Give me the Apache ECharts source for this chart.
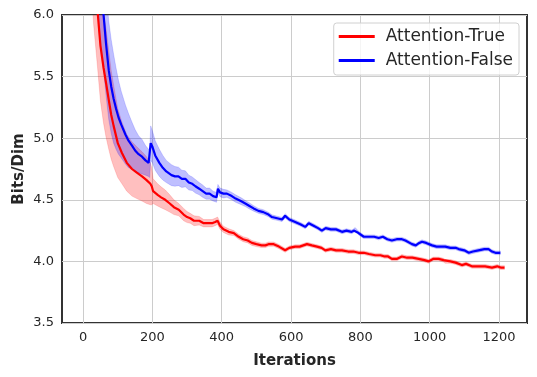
<!DOCTYPE html>
<html>
<head>
<meta charset="utf-8">
<script src="https://cdn.jsdelivr.net/npm/echarts@6/dist/echarts.min.js"></script>
<style>
    html, body {margin: 0; padding: 0; background: #fff;}
    #chart {width: 537px; height: 377px;}
</style>
</head>
<body>
<div id="chart"></div>
<script>
// Attention-True (red)
const redX = [20, 30, 42, 50, 59, 66, 74, 81, 88, 100,
    112, 126, 141, 155, 170, 183, 194, 198, 202, 215,
    225, 237, 250, 262, 276, 290, 300, 309, 320, 335,
    348, 360, 372, 381, 388, 395, 405, 420, 435, 449,
    462, 475, 487, 500, 515, 526, 535, 550, 565, 583,
    595, 612, 625, 646, 660, 675, 688, 699, 715, 730,
    747, 765, 780, 795, 810, 825, 843, 858, 870, 880,
    891, 905, 920, 935, 950, 968, 985, 997, 1010, 1026,
    1040, 1045, 1060, 1075, 1093, 1105, 1122, 1140, 1160, 1180,
    1195, 1205, 1216]
const redY = [6.9, 6.4, 6.02, 5.75, 5.57, 5.45, 5.31, 5.19, 5.10, 4.96,
    4.88, 4.80, 4.75, 4.72, 4.69, 4.66, 4.63, 4.61, 4.57, 4.54,
    4.52, 4.50, 4.47, 4.44, 4.42, 4.38, 4.36, 4.35, 4.33, 4.33,
    4.31, 4.31, 4.31, 4.32, 4.33, 4.29, 4.26, 4.24, 4.23, 4.20,
    4.18, 4.17, 4.15, 4.14, 4.13, 4.13, 4.14, 4.14, 4.12, 4.09,
    4.11, 4.12, 4.12, 4.14, 4.13, 4.12, 4.11, 4.09, 4.10, 4.09,
    4.09, 4.08, 4.08, 4.07, 4.07, 4.06, 4.05, 4.05, 4.04, 4.04,
    4.02, 4.02, 4.04, 4.03, 4.03, 4.02, 4.01, 4.00, 4.02, 4.02,
    4.01, 4.00, 4.00, 3.99, 3.97, 3.98, 3.96, 3.96, 3.96, 3.95,
    3.96, 3.95, 3.95]
// half width of the shaded band
const redSpread = [.48, .47, .46, .45, .45, .44, .40, .36, .33, .28,
    .25, .23, .22, .21, .20, .19, .17, .15, .10, .09,
    .085, .08, .07, .06, .05, .05, .045, .04, .04, .035,
    .03, .03, .03, .03, .03, .03, .025, .025, .02, .02,
    .02, .02, .02, .02, .018, .018, .018, .017, .017, .016,
    .015, .015, .015, .015, .015, .015, .015, .015, .015, .015,
    .015, .015, .015, .015, .015, .015, .015, .015, .015, .015,
    .015, .015, .015, .015, .015, .015, .015, .015, .015, .015,
    .015, .015, .015, .015, .015, .015, .015, .015, .015, .015,
    .015, .015, .015]

// Attention-False (blue)
const blueX = [45, 52, 59, 66, 74, 81, 88, 95, 102, 110,
    122, 131, 141, 150, 160, 170, 180, 189, 192, 195,
    200, 208, 220, 230, 240, 255, 265, 275, 285, 295,
    305, 315, 324, 335, 345, 355, 365, 375, 385, 389,
    395, 405, 415, 429, 440, 455, 468, 480, 492, 506,
    520, 535, 545, 560, 574, 583, 595, 612, 628, 641,
    651, 665, 678, 689, 700, 715, 730, 747, 760, 775,
    781, 785, 795, 810, 825, 840, 853, 865, 878, 891,
    905, 920, 930, 949, 960, 970, 978, 990, 1007, 1020,
    1035, 1045, 1060, 1075, 1084, 1100, 1113, 1125, 1141, 1158,
    1170, 1180, 1190, 1204]
const blueY = [6.35, 6.15, 6.0, 5.77, 5.55, 5.42, 5.32, 5.24, 5.17, 5.11,
    5.03, 4.98, 4.94, 4.90, 4.87, 4.85, 4.82, 4.80, 4.79, 4.96,
    4.93, 4.86, 4.80, 4.76, 4.73, 4.70, 4.69, 4.69, 4.67, 4.67,
    4.64, 4.63, 4.61, 4.59, 4.57, 4.55, 4.55, 4.53, 4.52, 4.59,
    4.56, 4.55, 4.55, 4.53, 4.51, 4.49, 4.47, 4.45, 4.43, 4.41,
    4.40, 4.38, 4.36, 4.35, 4.34, 4.37, 4.34, 4.32, 4.30, 4.28,
    4.31, 4.29, 4.27, 4.25, 4.27, 4.26, 4.26, 4.24, 4.25, 4.24,
    4.25, 4.26, 4.23, 4.20, 4.20, 4.20, 4.19, 4.20, 4.18, 4.17,
    4.18, 4.18, 4.17, 4.14, 4.13, 4.15, 4.16, 4.15, 4.13, 4.12,
    4.12, 4.12, 4.11, 4.11, 4.10, 4.09, 4.07, 4.08, 4.09, 4.10,
    4.10, 4.08, 4.07, 4.07]
const blueSpread = [.45, .45, .45, .42, .40, .38, .36, .33, .30, .27,
    .24, .22, .19, .17, .15, .14, .12, .11, .11, .14,
    .13, .12, .11, .10, .09, .085, .08, .075, .07, .065,
    .06, .055, .055, .05, .05, .045, .045, .04, .04, .035,
    .035, .035, .03, .03, .03, .028, .025, .025, .022, .02,
    .02, .018, .018, .017, .017, .017, .016, .016, .015, .015,
    .015, .015, .015, .015, .015, .015, .015, .015, .015, .015,
    .015, .015, .015, .015, .015, .015, .015, .015, .015, .015,
    .015, .015, .015, .015, .015, .015, .015, .015, .015, .015,
    .015, .015, .015, .015, .015, .015, .015, .015, .015, .015,
    .015, .015, .015, .015]

const xTicks = [0, 200, 400, 600, 800, 1000, 1200]
const textColor = '#262626'

const chart = echarts.init(document.getElementById('chart'))

function pairs(xs, ys) {
    return xs.map((x, i) => [x, ys[i]])
}

// shaded band: one polygon (upper edge, then lower edge backwards), drawn once
function bandSeries(xs, ys, spread, color) {
    const data = xs.map((x, i) => [x, ys[i] - spread[i], ys[i] + spread[i]])
    return {
        type: 'custom',
        silent: true,
        data: data,
        encode: {x: 0, y: [1, 2]},
        renderItem: (params, api) => {
            if (params.dataIndex !== 0) {
                return
            }
            const upper = data.map(d => api.coord([d[0], d[2]]))
            const lower = data.map(d => api.coord([d[0], d[1]])).reverse()
            const cs = params.coordSys
            return {
                type: 'polygon',
                shape: {points: upper.concat(lower)},
                style: {fill: color, stroke: color, lineWidth: 0.6},
                clipPath: {
                    type: 'rect',
                    shape: {x: cs.x, y: cs.y, width: cs.width, height: cs.height}
                }
            }
        }
    }
}

function lineSeries(name, xs, ys, color) {
    return {
        name: name,
        type: 'line',
        data: pairs(xs, ys),
        symbol: 'none',
        lineStyle: {color: color, width: 2.2},
        itemStyle: {color: color}
    }
}

const option = {
    animation: false,
    backgroundColor: '#fff',
    textStyle: {fontFamily: 'DejaVu Sans'},
    grid: {
        left: 62,
        right: 10,
        top: 15,
        bottom: 54,
        show: true,
        borderColor: '#333',
        borderWidth: 2,
        backgroundColor: '#fff'
    },
    legend: {
        data: ['Attention-True', 'Attention-False'],
        orient: 'vertical',
        right: 18,
        top: 23,
        icon: 'rect',
        itemWidth: 36,
        itemHeight: 3,
        itemGap: 7,
        padding: [5, 6, 6, 5],
        borderColor: '#d0d0d0',
        borderWidth: 1,
        borderRadius: 3,
        backgroundColor: 'rgba(255,255,255,0.8)',
        textStyle: {
            fontSize: 17,
            lineHeight: 17,
            color: textColor,
            fontFamily: 'DejaVu Sans',
            padding: [0, 0, 0, 6]
        }
    },
    xAxis: {
        type: 'value',
        min: -61,
        max: 1281,
        name: 'Iterations',
        nameLocation: 'middle',
        nameGap: 31,
        nameTextStyle: {fontSize: 15, fontWeight: 'bold', color: textColor},
        axisLine: {show: false},
        axisTick: {show: true, length: 0, customValues: xTicks},
        axisLabel: {
            customValues: xTicks,
            fontSize: 13,
            color: textColor,
            margin: 8,
            formatter: v => String(v)
        },
        splitLine: {show: true, lineStyle: {color: '#cccccc', width: 1}}
    },
    yAxis: {
        type: 'value',
        min: 3.5,
        max: 6.0,
        interval: 0.5,
        name: 'Bits/Dim',
        nameLocation: 'middle',
        nameGap: 35,
        nameMoveOverlap: false,
        nameTextStyle: {fontSize: 15, fontWeight: 'bold', color: textColor},
        axisLine: {show: false},
        axisTick: {show: false},
        axisLabel: {
            fontSize: 13,
            color: textColor,
            margin: 8,
            formatter: v => v.toFixed(1)
        },
        splitLine: {show: true, lineStyle: {color: '#cccccc', width: 1}}
    },
    series: [
        bandSeries(redX, redY, redSpread, 'rgba(255,0,0,0.25)'),
        bandSeries(blueX, blueY, blueSpread, 'rgba(0,0,255,0.25)'),
        lineSeries('Attention-True', redX, redY, '#ff0000'),
        lineSeries('Attention-False', blueX, blueY, '#0000ff')
    ]
}

chart.setOption(option)
</script>
</body>
</html>
